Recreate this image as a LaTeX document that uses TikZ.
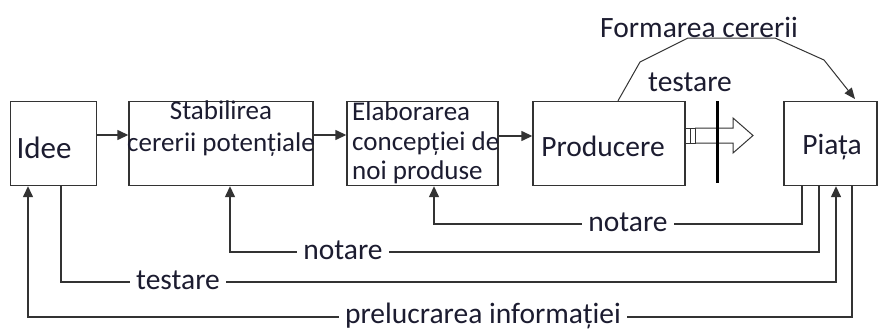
\documentclass[tikz,border=0pt]{standalone}
\usepackage{fontspec}
\setmainfont{Carlito}
\usetikzlibrary{arrows.meta}
\definecolor{ln}{HTML}{333333}
\definecolor{tx}{HTML}{1C1C30}
\tikzset{
  box/.style={draw=ln,line width=1.4pt,minimum height=84pt,inner sep=0pt},
  lbl/.style={text=tx,font=\fontsize{29.5}{30}\selectfont,inner sep=0pt},
  small/.style={text=tx,font=\fontsize{27}{29.5}\selectfont,inner sep=0pt},
  gap/.style={lbl,fill=white,inner xsep=6pt,inner ysep=2pt},
  conn/.style={draw=ln,line width=1.4pt},
  arr/.style={conn,-{Triangle[length=11pt,width=10pt]}},
}
\begin{document}
\begin{tikzpicture}[x=1pt,y=-1pt]
\path[use as bounding box,fill=white] (0,0) rectangle (893,332);
% boxes
\node[box,minimum width=86pt] (idee) at (53.5,143.5) {};
\node[box,minimum width=184pt] (stab) at (221,143.5) {};
\node[box,minimum width=151pt] (elab) at (422.5,143.5) {};
\node[box,minimum width=152pt] (prod) at (609,143.5) {};
\node[box,minimum width=93pt] (piata) at (830.5,143.5) {};
% texts in boxes
\node[lbl,font=\fontsize{31}{32}\selectfont] (tidee) at (44,148) {Idee};
\node[small,align=center] (tstab) at (221,129) {Stabilirea\\[2.5pt]cererii potențiale};
\node[small,align=left,anchor=west] (telab) at (352,143) {Elaborarea\\concepției de\\noi produse};
\node[lbl] (tprod) at (603,146) {Producere};
\node[lbl] (tpiata) at (832,147) {Piața};
% forward arrows
\coordinate (a1) at (0,135);
\coordinate (a2) at (0,136);
\draw[arr] (idee.east |- a1) -- (stab.west |- a1);
\draw[arr] (stab.east |- a1) -- (elab.west |- a1);
\draw[arr] (elab.east |- a2) -- (prod.west |- a2);
% Formarea cererii curve
\coordinate (f0) at (618,101);
\coordinate (f1) at (640,62);
\coordinate (f2) at (688,38);
\coordinate (f3) at (775,38);
\coordinate (f4) at (824,60);
\coordinate (f5) at (855,99);
\draw[conn,line width=1pt,-{Triangle[length=11pt,width=9pt]}] (prod.north -| f0) -- (f1) -- (f2) -- (f3) -- (f4) -- (f5);
\node[lbl] (tform) at (699,27) {Formarea cererii};
\node[lbl] (ttest1) at (690,82) {testare};
% hollow arrow
\draw[ln,line width=1pt] (685,128) rectangle (695,143);
\draw[ln,line width=1pt] (690,128) -- (690,143);
\draw[ln,line width=1pt] (695,128) -- (733,128) -- (733,118) -- (753,135.5) -- (733,153) -- (733,143) -- (695,143);
\draw[black,line width=3pt] (717,101) -- (717,183);
% feedback lines
\coordinate (n1a) at (802,224);
\coordinate (n1b) at (434,224);
\draw[arr] (piata.south -| n1a) -- (n1a) -- (n1b) -- (elab.south -| n1b);
\node[gap] (tn1) at (628,222) {notare};
\coordinate (n2a) at (819,252);
\coordinate (n2b) at (230,252);
\draw[arr] (piata.south -| n2a) -- (n2a) -- (n2b) -- (stab.south -| n2b);
\node[gap] (tn2) at (343,250) {notare};
\coordinate (t1a) at (61,282);
\coordinate (t1b) at (836,282);
\draw[arr] (idee.south -| t1a) -- (t1a) -- (t1b) -- (piata.south -| t1b);
\node[gap] (tt) at (178,280) {testare};
\coordinate (pra) at (852,317);
\coordinate (prb) at (28,317);
\draw[arr] (piata.south -| pra) -- (pra) -- (prb) -- (idee.south -| prb);
\node[gap,inner ysep=1pt] (tpr) at (483,316) {prelucrarea informației};
\end{tikzpicture}
\end{document}
